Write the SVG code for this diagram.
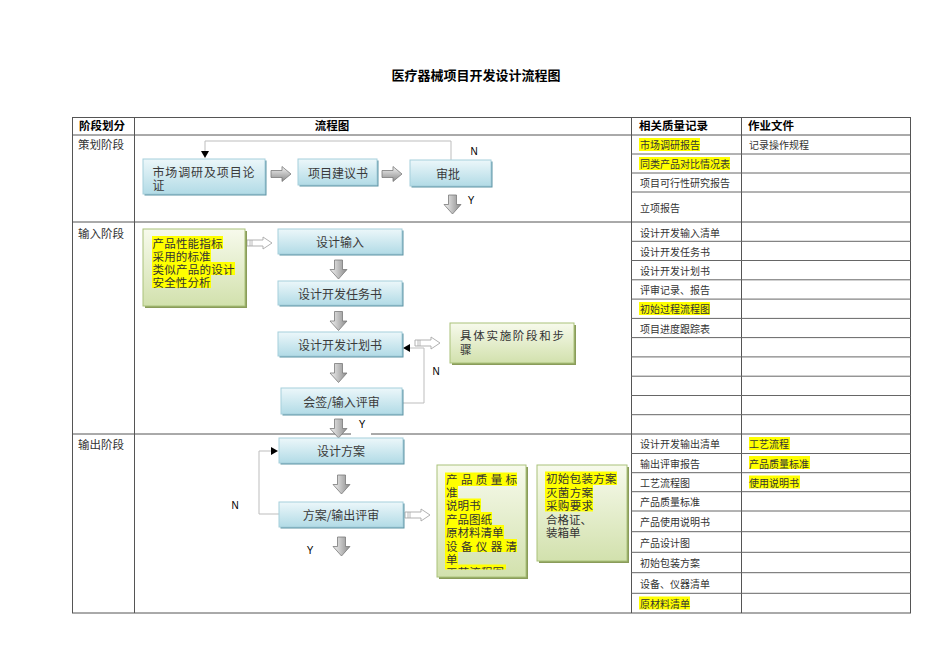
<svg xmlns="http://www.w3.org/2000/svg" width="950" height="672" viewBox="0 0 950 672">
<defs>
<linearGradient id="boxG" x1="0" y1="0" x2="0" y2="1"><stop offset="0" stop-color="#ecf7fa"/><stop offset="1" stop-color="#b2dbe6"/></linearGradient>
<linearGradient id="grnG" x1="0" y1="0" x2="0" y2="1"><stop offset="0" stop-color="#f7faec"/><stop offset="1" stop-color="#d2e1ad"/></linearGradient>
<linearGradient id="arrH" x1="0" y1="0" x2="1" y2="0"><stop offset="0" stop-color="#f4f4f4"/><stop offset="1" stop-color="#8a8a8a"/></linearGradient>
<linearGradient id="arrV" x1="0" y1="0" x2="0" y2="1"><stop offset="0" stop-color="#f4f4f4"/><stop offset="1" stop-color="#8a8a8a"/></linearGradient>
<clipPath id="clipG3"><rect x="437" y="465" width="89" height="104.5"/></clipPath>
<g id="downArr"><path d="M4.5,0 H12.5 V9.5 H17 L8.5,19 L0,9.5 H4.5 Z" fill="url(#arrH)" stroke="#7a7a7a" stroke-width="0.8"/></g>
<g id="rightArr"><path d="M0,4 H11 V0 L20,7.5 L11,15 V11 H0 Z" fill="url(#arrV)" stroke="#7a7a7a" stroke-width="0.8"/></g>
<g id="hollowArr"><path d="M0,3 H16 V0 L25,6 L16,12 V9 H0 Z" fill="#ffffff" stroke="#a8a8a8" stroke-width="0.9"/><path d="M3,3 V9 M5,3 V9" stroke="#a8a8a8" stroke-width="0.8"/></g>
</defs>
<style>
.tl{stroke:#555;stroke-width:1;fill:none}
.tr{stroke:#666;stroke-width:1;fill:none}
.hd{font-family:"Liberation Sans","Noto Sans CJK SC",sans-serif;font-size:11.5px;font-weight:bold;fill:#000}
.stg{font-family:"Noto Sans CJK SC",sans-serif;font-size:11.5px;fill:#333}
.rc{font-family:"Noto Sans CJK SC",sans-serif;font-size:10px;fill:#333}
.bx{fill:url(#boxG);stroke:#a6cfdb;stroke-width:1}
.bs{fill:#5d93a4}
.gx{fill:url(#grnG);stroke:#aac27a;stroke-width:1}
.gs{fill:#8a9c5a}
.bt{font-family:"Noto Sans CJK SC",sans-serif;font-size:12px;fill:#3a3a3a}
.gt{font-family:"Noto Sans CJK SC",sans-serif;font-size:11.5px;fill:#333}
.hl{fill:#ffff00}
.yn{font-family:"Liberation Sans",Arial,sans-serif;font-size:10px;fill:#000}
.fb{stroke:#bdbdbd;stroke-width:1;fill:none}
</style>
<rect width="950" height="672" fill="#ffffff"/>
<text x="476" y="75" text-anchor="middle" dominant-baseline="central" font-family="Liberation Sans,'Noto Sans CJK SC',sans-serif" font-size="13px" font-weight="bold" fill="#000">医疗器械项目开发设计流程图</text>

<g id="table">
<rect x="72.5" y="117.5" width="838" height="495.5" class="tl"/>
<line x1="72" y1="135" x2="911" y2="135" class="tl"/>
<line x1="72" y1="222" x2="911" y2="222" class="tl"/>
<line x1="72" y1="434" x2="911" y2="434" class="tl"/>
<line x1="134.5" y1="117" x2="134.5" y2="613" class="tl"/>
<line x1="631.5" y1="117" x2="631.5" y2="613" class="tl"/>
<line x1="741.5" y1="117" x2="741.5" y2="613" class="tl"/>
<path class="tr" d="M631,154 H911 M631,173 H911 M631,192 H911 M631,241.3 H911 M631,260.5 H911 M631,279.8 H911 M631,299.1 H911 M631,318.4 H911 M631,337.6 H911 M631,356.9 H911 M631,376.2 H911 M631,395.5 H911 M631,414.7 H911 M631,453.5 H911 M631,472.7 H911 M631,491.7 H911 M631,511 H911 M631,531.7 H911 M631,552.3 H911 M631,572.7 H911 M631,593.3 H911"/>
<text x="79" y="126" class="hd" dominant-baseline="central">阶段划分</text>
<text x="332" y="126" class="hd" text-anchor="middle" dominant-baseline="central">流程图</text>
<text x="639" y="126" class="hd" dominant-baseline="central">相关质量记录</text>
<text x="748" y="126" class="hd" dominant-baseline="central">作业文件</text>
<text x="78" y="144" class="stg" dominant-baseline="central">策划阶段</text>
<text x="78" y="233" class="stg" dominant-baseline="central">输入阶段</text>
<text x="78" y="444" class="stg" dominant-baseline="central">输出阶段</text>
</g>

<g id="records">
<rect x="639" y="138" width="61" height="13" class="hl"/>
<rect x="639" y="157" width="91" height="13" class="hl"/>
<rect x="639" y="302" width="71" height="13" class="hl"/>
<rect x="749" y="437" width="41" height="13" class="hl"/>
<rect x="749" y="456" width="61" height="13" class="hl"/>
<rect x="749" y="475.5" width="51" height="13" class="hl"/>
<rect x="639" y="596.5" width="51" height="13" class="hl"/>
<g class="rc" dominant-baseline="central">
<text x="640" y="144.5">市场调研报告</text>
<text x="749" y="144.5">记录操作规程</text>
<text x="640" y="163.5">同类产品对比情况表</text>
<text x="640" y="182.5">项目可行性研究报告</text>
<text x="640" y="207.5">立项报告</text>
<text x="640" y="232">设计开发输入清单</text>
<text x="640" y="251">设计开发任务书</text>
<text x="640" y="270">设计开发计划书</text>
<text x="640" y="289.5">评审记录、报告</text>
<text x="640" y="308.5">初始过程流程图</text>
<text x="640" y="328">项目进度跟踪表</text>
<text x="640" y="443.5">设计开发输出清单</text>
<text x="749" y="443.5">工艺流程</text>
<text x="640" y="463">输出评审报告</text>
<text x="749" y="463">产品质量标准</text>
<text x="640" y="482">工艺流程图</text>
<text x="749" y="482">使用说明书</text>
<text x="640" y="501.5">产品质量标准</text>
<text x="640" y="521.5">产品使用说明书</text>
<text x="640" y="542">产品设计图</text>
<text x="640" y="562.5">初始包装方案</text>
<text x="640" y="583">设备、仪器清单</text>
<text x="640" y="603">原材料清单</text>
</g>
</g>

<g id="connectors">
<path class="fb" d="M451,160 V141 H205 V152"/>
<path d="M201,151 H209 L205,158 Z" fill="#000"/>
<path class="fb" d="M403,403 H424 V348 H410"/>
<path d="M403,348 L410,344 V352 Z" fill="#000"/>
<path class="fb" d="M279,514 H259 V451 H271"/>
<path d="M278,451 L271,447 V455 Z" fill="#000"/>
<use href="#rightArr" x="271" y="166.5"/>
<use href="#rightArr" x="382" y="166.5"/>
<use href="#downArr" x="444" y="195"/>
<use href="#downArr" x="330" y="260"/>
<use href="#downArr" x="330" y="311.5"/>
<use href="#downArr" x="330" y="363.5"/>
<rect x="351" y="413" width="20" height="22" fill="#ffffff"/>
<use href="#downArr" x="330" y="419"/>
<use href="#downArr" x="333" y="475"/>
<use href="#downArr" x="333" y="537"/>
<use href="#hollowArr" x="247" y="237"/>
<use href="#hollowArr" x="415" y="337"/>
<use href="#hollowArr" x="405" y="509"/>
<text x="474" y="151" class="yn" text-anchor="middle" dominant-baseline="central">N</text>
<text x="471" y="200.5" class="yn" text-anchor="middle" dominant-baseline="central">Y</text>
<text x="436" y="371" class="yn" text-anchor="middle" dominant-baseline="central">N</text>
<text x="362" y="424" class="yn" text-anchor="middle" dominant-baseline="central">Y</text>
<text x="235" y="505" class="yn" text-anchor="middle" dominant-baseline="central">N</text>
<text x="310" y="550" class="yn" text-anchor="middle" dominant-baseline="central">Y</text>
</g>

<g id="n1"><rect x="144.5" y="160.5" width="122" height="35" class="bs"/><rect x="143" y="159" width="122" height="35" class="bx"/>
<text x="152.5" y="171.5" class="bt" dominant-baseline="central" textLength="102" lengthAdjust="spacing">市场调研及项目论</text>
<text x="152.5" y="184.5" class="bt" dominant-baseline="central">证</text></g>
<g id="n2"><rect x="299.5" y="160.5" width="79" height="26" class="bs"/><rect x="298" y="159" width="79" height="26" class="bx"/>
<text x="338" y="172" class="bt" text-anchor="middle" dominant-baseline="central">项目建议书</text></g>
<g id="n3"><rect x="411.5" y="161.5" width="81" height="26" class="bs"/><rect x="410" y="160" width="81" height="26" class="bx"/>
<text x="448" y="173" class="bt" text-anchor="middle" dominant-baseline="central">审批</text></g>

<g id="g1"><rect x="145" y="231" width="102" height="77" class="gs"/><rect x="143" y="229" width="102" height="77" class="gx"/>
<rect x="152" y="236" width="71" height="13" class="hl"/><rect x="152" y="249" width="59" height="13" class="hl"/><rect x="152" y="262" width="83" height="13" class="hl"/><rect x="152" y="275" width="59" height="13" class="hl"/>
<text x="152.5" y="242.5" class="gt" dominant-baseline="central" textLength="70" lengthAdjust="spacing">产品性能指标</text>
<text x="152.5" y="255.5" class="gt" dominant-baseline="central" textLength="58" lengthAdjust="spacing">采用的标准</text>
<text x="152.5" y="268.5" class="gt" dominant-baseline="central" textLength="82" lengthAdjust="spacing">类似产品的设计</text>
<text x="152.5" y="281.5" class="gt" dominant-baseline="central" textLength="58" lengthAdjust="spacing">安全性分析</text></g>
<g id="n4"><rect x="279.5" y="230.5" width="124" height="25" class="bs"/><rect x="278" y="229" width="124" height="25" class="bx"/>
<text x="340" y="241.5" class="bt" text-anchor="middle" dominant-baseline="central">设计输入</text></g>
<g id="n5"><rect x="279.5" y="282.5" width="124" height="24" class="bs"/><rect x="278" y="281" width="124" height="24" class="bx"/>
<text x="340" y="293" class="bt" text-anchor="middle" dominant-baseline="central">设计开发任务书</text></g>
<g id="n6"><rect x="279.5" y="333.5" width="124" height="24" class="bs"/><rect x="278" y="332" width="124" height="24" class="bx"/>
<text x="340" y="344" class="bt" text-anchor="middle" dominant-baseline="central">设计开发计划书</text></g>
<g id="n7"><rect x="282.5" y="389.5" width="121" height="26" class="bs"/><rect x="281" y="388" width="121" height="26" class="bx"/>
<text x="341.5" y="401" class="bt" text-anchor="middle" dominant-baseline="central">会签/输入评审</text></g>
<g id="g2"><rect x="452" y="325" width="124" height="40" class="gs"/><rect x="450" y="323" width="124" height="40" class="gx"/>
<text x="460" y="335" class="gt" fill="#444" font-size="12px" dominant-baseline="central" textLength="104" lengthAdjust="spacing">具体实施阶段和步</text>
<text x="460" y="349" class="gt" fill="#444" font-size="12px" dominant-baseline="central">骤</text></g>

<g id="n8"><rect x="280.5" y="439.5" width="124" height="25" class="bs"/><rect x="279" y="438" width="124" height="25" class="bx"/>
<text x="341" y="450.5" class="bt" text-anchor="middle" dominant-baseline="central">设计方案</text></g>
<g id="n9"><rect x="280.5" y="503.5" width="124" height="25" class="bs"/><rect x="279" y="502" width="124" height="25" class="bx"/>
<text x="341" y="514.5" class="bt" text-anchor="middle" dominant-baseline="central">方案/输出评审</text></g>
<g id="g3"><rect x="439" y="467" width="89" height="112" class="gs"/><rect x="437" y="465" width="89" height="112" class="gx"/>
<g clip-path="url(#clipG3)">
<rect x="445" y="472.5" width="72" height="13.5" class="hl"/><rect x="445" y="486" width="13" height="12.5" class="hl"/><rect x="445" y="498.5" width="36" height="13.5" class="hl"/><rect x="445" y="512" width="47" height="13" class="hl"/><rect x="445" y="525" width="59" height="14" class="hl"/><rect x="445" y="539" width="72" height="13" class="hl"/><rect x="445" y="552" width="13" height="12.5" class="hl"/><rect x="445" y="564.5" width="61" height="12" class="hl"/>
<text x="446" y="479.3" class="gt" dominant-baseline="central" textLength="71" lengthAdjust="spacing">产品质量标</text>
<text x="446" y="492" class="gt" dominant-baseline="central">准</text>
<text x="446" y="505" class="gt" dominant-baseline="central" textLength="34.5" lengthAdjust="spacing">说明书</text>
<text x="446" y="518.5" class="gt" dominant-baseline="central" textLength="46" lengthAdjust="spacing">产品图纸</text>
<text x="446" y="532" class="gt" dominant-baseline="central" textLength="57.5" lengthAdjust="spacing">原材料清单</text>
<text x="446" y="546" class="gt" dominant-baseline="central" textLength="71" lengthAdjust="spacing">设备仪器清</text>
<text x="446" y="558.5" class="gt" dominant-baseline="central">单</text>
<text x="446" y="571.5" class="gt" dominant-baseline="central" textLength="58" lengthAdjust="spacing">工艺流程图</text>
</g></g>
<g id="g4"><rect x="539" y="467" width="90" height="96" class="gs"/><rect x="537" y="465" width="90" height="96" class="gx"/>
<rect x="545" y="471.5" width="72" height="13.5" class="hl"/><rect x="545" y="485" width="48" height="13.5" class="hl"/><rect x="545" y="498.5" width="48" height="13" class="hl"/>
<text x="546" y="478" class="gt" dominant-baseline="central" textLength="70.5" lengthAdjust="spacing">初始包装方案</text>
<text x="546" y="491.7" class="gt" dominant-baseline="central" textLength="47" lengthAdjust="spacing">灭菌方案</text>
<text x="546" y="505" class="gt" dominant-baseline="central" textLength="47" lengthAdjust="spacing">采购要求</text>
<text x="546" y="519" class="gt" fill="#444" dominant-baseline="central">合格证、</text>
<text x="546" y="532" class="gt" fill="#444" dominant-baseline="central">装箱单</text></g>
</svg>
